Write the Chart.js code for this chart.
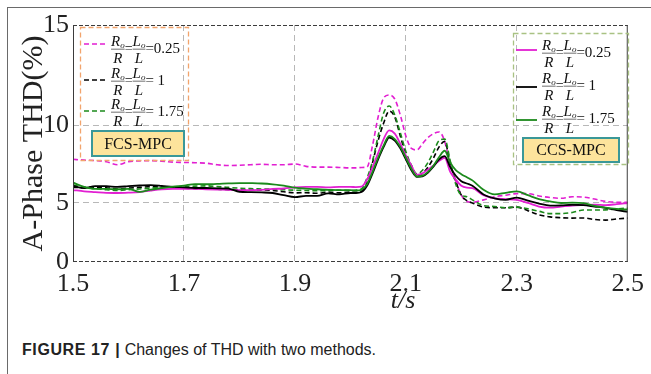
<!DOCTYPE html>
<html>
<head>
<meta charset="utf-8">
<script src="https://cdn.jsdelivr.net/npm/chart.js@4.4.0/dist/chart.umd.min.js"></script>
<style>
  html, body { margin: 0; padding: 0; background: #fff; }
  body { width: 651px; height: 374px; position: relative; overflow: hidden; }
  #frame { position: absolute; left: 7px; top: 7px; width: 700px; height: 400px;
           border-left: 1px solid #6a6a6a; border-top: 1px solid #6a6a6a; }
  #wrap { position: absolute; left: 0; top: 0; width: 651px; height: 320px; }
  #caption { position: absolute; left: 22px; top: 341px; color: #222;
             font: 16px "Liberation Sans", Arial, sans-serif; white-space: nowrap; }
  #caption b { font-weight: bold; letter-spacing: 0.6px; }
</style>
</head>
<body>
<div id="frame"></div>
<div id="wrap"><canvas id="chart" width="651" height="320"></canvas></div>
<div id="caption"><b>FIGURE 17 |</b> Changes of THD with two methods.</div>
<script>
"use strict"

// time axis (s), finer around the load step
const times = [
    1.50, 1.52, 1.54, 1.56, 1.58, 1.60, 1.62, 1.64, 1.66, 1.68,
    1.70, 1.72, 1.74, 1.76, 1.78, 1.80, 1.82, 1.84, 1.86, 1.88,
    1.90, 1.92, 1.94, 1.96, 1.98, 2.00,
    2.01, 2.02, 2.03, 2.04, 2.05, 2.06, 2.07, 2.08, 2.09, 2.10,
    2.11, 2.12, 2.13, 2.14, 2.15, 2.16, 2.17, 2.18, 2.19, 2.20,
    2.21, 2.22,
    2.24, 2.26, 2.28, 2.30, 2.32, 2.34, 2.36, 2.38, 2.40, 2.42, 2.44, 2.46, 2.48, 2.50
];

// FCS-MPC (dashed)
const fcsPink = [
    7.80, 7.75, 7.72, 7.65, 7.45, 7.65, 7.70, 7.72, 7.68, 7.62,
    7.60, 7.58, 7.55, 7.45, 7.40, 7.42, 7.45, 7.48, 7.45, 7.45,
    7.50, 7.35, 7.30, 7.30, 7.28, 7.25,
    7.25, 7.28, 7.30, 8.70, 10.40, 11.35, 11.50, 11.30, 10.50, 9.30,
    8.50, 8.40, 8.80, 9.20, 9.45, 9.55, 8.95, 7.40, 6.40, 5.50,
    5.10, 5.05,
    5.20, 5.40, 5.50, 5.60, 5.60, 5.45, 5.35, 5.30, 5.40, 5.38, 5.25, 5.10, 5.05, 5.05
];
const fcsBlack = [
    6.00, 5.98, 6.02, 5.98, 5.90, 5.95, 6.00, 6.05, 6.02, 5.98,
    5.95, 5.92, 5.90, 5.88, 5.86, 5.85, 5.82, 5.84, 5.80, 5.72,
    5.65, 5.66, 5.62, 5.70, 5.65, 5.70,
    5.68, 5.75, 6.30, 7.60, 9.00, 10.10, 10.70, 10.40, 9.30, 8.10,
    7.40, 6.75, 6.90, 7.30, 7.90, 8.60, 8.95, 7.50, 6.40, 5.50,
    5.15, 5.00,
    4.65, 4.60, 4.60, 4.65, 4.35, 4.00, 3.82, 3.75, 3.72, 3.73, 3.60, 3.55, 3.65, 3.72
];
const fcsGreen = [
    6.15, 6.00, 5.92, 5.85, 5.80, 5.85, 5.90, 5.95, 6.00, 6.02,
    6.05, 6.08, 6.10, 6.05, 6.00, 5.95, 5.92, 5.90, 5.88, 5.85,
    5.82, 5.80, 5.78, 5.80, 5.82, 5.80,
    5.82, 5.90, 6.60, 7.70, 9.30, 10.60, 10.95, 10.50, 9.50, 8.30,
    7.40, 6.85, 7.10, 7.60, 8.30, 9.00, 9.10, 7.70, 6.20, 5.50,
    5.40, 5.20,
    4.78, 4.70, 4.60, 4.65, 4.50, 4.30, 4.10, 4.10, 4.20, 4.40, 4.40, 4.42, 4.50, 4.58
];

// CCS-MPC (solid)
const ccsPink = [
    5.83, 5.75, 5.70, 5.65, 5.64, 5.66, 5.70, 5.80, 5.88, 5.90,
    5.90, 5.90, 5.88, 5.86, 5.84, 5.83, 5.83, 5.84, 5.90, 5.93,
    6.00, 6.03, 6.03, 6.00, 6.03, 6.03,
    6.02, 6.05, 6.50, 7.30, 8.20, 9.10, 9.65, 9.45, 8.80, 8.05,
    7.40, 6.80, 6.90, 7.15, 7.40, 7.70, 7.90, 7.00, 6.50, 6.10,
    5.98, 5.95,
    5.50, 5.30, 5.25, 5.20, 5.00, 4.70, 4.60, 4.70, 4.78, 4.82, 4.85, 4.82, 4.90, 5.00
];
const ccsBlack = [
    6.09, 5.95, 6.08, 6.08, 6.03, 6.08, 6.12, 6.15, 6.10, 6.03,
    6.00, 5.96, 5.96, 5.94, 5.92, 5.72, 5.70, 5.68, 5.64, 5.50,
    5.38, 5.45, 5.45, 5.62, 5.55, 5.64,
    5.64, 5.70, 6.10, 6.90, 7.80, 8.60, 9.20, 9.00, 8.50, 7.80,
    7.10, 6.68, 6.70, 6.95, 7.35, 7.80, 8.00, 7.30, 6.75, 6.40,
    6.25, 6.10,
    5.55, 5.30, 5.20, 5.35, 5.15, 4.95, 4.78, 4.80, 4.85, 4.82, 4.70, 4.58, 4.40, 4.25
];
const ccsGreen = [
    6.30, 6.03, 5.90, 5.90, 5.88, 5.90, 5.71, 5.85, 5.96, 6.05,
    6.12, 6.21, 6.20, 6.22, 6.26, 6.28, 6.27, 6.25, 6.20, 6.12,
    5.98, 5.92, 5.88, 5.84, 5.83, 5.83,
    5.80, 5.85, 6.20, 7.00, 7.90, 8.70, 9.30, 9.10, 8.60, 7.90,
    7.20, 6.70, 6.75, 7.00, 7.40, 7.95, 8.35, 7.60, 7.10, 6.85,
    6.65, 6.45,
    5.85, 5.55, 5.65, 5.75, 5.50, 5.25, 5.10, 5.00, 5.02, 4.98, 4.75, 4.60, 4.50, 4.45
];

const xTicks = [1.5, 1.7, 1.9, 2.1, 2.3, 2.5];
const yTicks = [0, 5, 10, 15];
const ratioLabels = ["=0.25", "= 1", "= 1.75"];
const methodNames = ["FCS-MPC", "CCS-MPC"];
const xTitle = "t/s";

const MAGENTA = "#e21fd2";
const BLACK = "#000000";
const GREEN = "#1b8a1b";
const SERIF = '"Liberation Serif", "Times New Roman", serif';

Chart.defaults.font.family = SERIF;
Chart.defaults.color = "#222";


// the printed y axis is not evenly spaced: 0-5 is short, 10-15 is tall
const warpValues = [0, 5, 10, 15];
const warpDecimals = [0, 0.249, 0.578, 1];

function warp(v) {
    for (let i = 1; i < warpValues.length; i++) {
        if (v <= warpValues[i] || i === warpValues.length - 1) {
            const f = (v - warpValues[i - 1]) / (warpValues[i] - warpValues[i - 1]);
            return warpDecimals[i - 1] + f * (warpDecimals[i] - warpDecimals[i - 1]);
        }
    }
}
function unwarp(d) {
    for (let i = 1; i < warpDecimals.length; i++) {
        if (d <= warpDecimals[i] || i === warpDecimals.length - 1) {
            const f = (d - warpDecimals[i - 1]) / (warpDecimals[i] - warpDecimals[i - 1]);
            return warpValues[i - 1] + f * (warpValues[i] - warpValues[i - 1]);
        }
    }
}

class WarpScale extends Chart.LinearScale {
    getPixelForValue(value) {
        if (value === null || isNaN(value)) return NaN;
        return this.getPixelForDecimal(warp(value));
    }
    getValueForPixel(pixel) {
        return unwarp(this.getDecimalForPixel(pixel));
    }
}
WarpScale.id = "warp";
WarpScale.defaults = Chart.LinearScale.defaults;
Chart.register(WarpScale);


function series(values) {
    return values.map((v, i) => ({ x: times[i], y: v }));
}

function line(label, values, color, dashed) {
    return {
        label: label,
        data: series(values),
        borderColor: color,
        borderWidth: dashed ? 1.6 : 1.8,
        borderDash: dashed ? [5, 3] : [],
        pointRadius: 0,
        fill: false,
        cubicInterpolationMode: "monotone",
    };
}

// first dataset is painted last (on top)
const datasets = [
    line("CCS 1.75", ccsGreen, GREEN, false),
    line("CCS 1", ccsBlack, BLACK, false),
    line("CCS 0.25", ccsPink, MAGENTA, false),
    line("FCS 1.75", fcsGreen, GREEN, true),
    line("FCS 1", fcsBlack, BLACK, true),
    line("FCS 0.25", fcsPink, MAGENTA, true),
];

// legend boxes: rows are 0.25, 1, 1.75
const legendGroups = [
    { name: methodNames[0], sets: [5, 4, 3], box: [80, 27, 108, 133], edge: "#f2a46c",
      lineX: [84, 108], lineY: [44, 80, 111], textX: 111, rows: [49, 81, 112], tag: [92, 131, 92, 25] },
    { name: methodNames[1], sets: [2, 1, 0], box: [513, 33, 115, 131], edge: "#a9c283",
      lineX: [516, 537], lineY: [50, 87, 120], textX: 542, rows: [53, 86, 119], tag: [523, 138, 96, 24] },
];

function fraction(ctx, x, y, letter) {
    ctx.font = "italic 15px " + SERIF;
    const lw = ctx.measureText(letter).width;
    ctx.font = "italic 9px " + SERIF;
    const sw = ctx.measureText("o").width;
    const w = lw + sw;
    ctx.font = "italic 15px " + SERIF;
    ctx.fillText(letter, x, y - 3);
    ctx.font = "italic 9px " + SERIF;
    ctx.fillText("o", x + lw, y - 1);
    ctx.font = "italic 15px " + SERIF;
    ctx.fillText(letter, x + (w - lw) / 2, y + 14);
    ctx.fillRect(x, y - 0.2, w, 0.6);
    return w;
}

function legendEntry(ctx, x, y, ratio) {
    ctx.fillStyle = "#111";
    ctx.textBaseline = "alphabetic";
    let w = fraction(ctx, x, y, "R");
    ctx.font = "14px " + SERIF;
    ctx.fillText("=", x + w, y + 4);
    x += w + ctx.measureText("=").width;
    w = fraction(ctx, x, y, "L");
    ctx.font = "15px " + SERIF;
    ctx.fillText(ratio, x + w, y + 4);
}

const legendPlugin = {
    id: "methodLegends",
    afterDraw(chart) {
        const ctx = chart.ctx;
        const a = chart.chartArea;
        ctx.save();

        // plot frame
        ctx.strokeStyle = "#3c3c3c";
        ctx.lineWidth = 1;
        ctx.beginPath();
        ctx.moveTo(a.left + 0.5, a.top);
        ctx.lineTo(a.left + 0.5, a.bottom);
        ctx.moveTo(a.right - 0.5, a.top);
        ctx.lineTo(a.right - 0.5, a.bottom);
        ctx.stroke();
        ctx.setLineDash([4, 2]);
        ctx.beginPath();
        ctx.moveTo(a.left, a.top + 0.5);
        ctx.lineTo(a.right, a.top + 0.5);
        ctx.moveTo(a.left, a.bottom - 0.5);
        ctx.lineTo(a.right, a.bottom - 0.5);
        ctx.stroke();

        // x axis title sits under 2.1 in the original
        ctx.setLineDash([]);
        ctx.fillStyle = "#222";
        ctx.font = "italic 26px " + SERIF;
        ctx.textAlign = "center";
        ctx.textBaseline = "alphabetic";
        ctx.fillText(xTitle, chart.scales.x.getPixelForValue(2.095), 308);
        ctx.textAlign = "left";

        legendGroups.forEach(g => {
            const [bx, by, bw, bh] = g.box;
            ctx.setLineDash([5, 3]);
            ctx.lineWidth = 1.3;
            ctx.strokeStyle = g.edge;
            ctx.strokeRect(bx + 0.5, by + 0.5, bw, bh);

            g.sets.forEach((di, r) => {
                const ds = chart.data.datasets[di];
                ctx.setLineDash(ds.borderDash);
                ctx.strokeStyle = ds.borderColor;
                ctx.lineWidth = ds.borderWidth;
                ctx.beginPath();
                ctx.moveTo(g.lineX[0], g.lineY[r]);
                ctx.lineTo(g.lineX[1], g.lineY[r]);
                ctx.stroke();
                legendEntry(ctx, g.textX, g.rows[r], ratioLabels[r]);
            });

            const [tx, ty, tw, th] = g.tag;
            ctx.setLineDash([]);
            ctx.fillStyle = "#fde49c";
            ctx.fillRect(tx, ty, tw, th);
            ctx.strokeStyle = "#3a9898";
            ctx.lineWidth = 2;
            ctx.strokeRect(tx, ty, tw, th);
            ctx.fillStyle = "#111";
            ctx.font = "16px " + SERIF;
            ctx.textAlign = "center";
            ctx.textBaseline = "middle";
            ctx.fillText(g.name, tx + tw / 2, ty + th / 2 + 1);
            ctx.textAlign = "left";
        });
        ctx.restore();
    }
};

const edgeX = v => v === xTicks[0] || v === xTicks[xTicks.length - 1];
const edgeY = v => v === yTicks[0] || v === yTicks[yTicks.length - 1];

new Chart(document.querySelector("#chart"), {
    type: "line",
    data: { datasets: datasets },
    options: {
        responsive: false,
        animation: false,
        layout: { padding: { left: 0, top: 25, right: 8, bottom: 0 } },
        plugins: { legend: { display: false }, tooltip: { enabled: false } },
        scales: {
            x: {
                type: "linear",
                min: 1.5,
                max: 2.5,
                afterBuildTicks: s => { s.ticks = xTicks.map(v => ({ value: v })); },
                afterFit: s => { s.height = 58; },
                ticks: { padding: 7, font: { size: 26 }, callback: v => v.toFixed(1) },
                grid: { color: c => edgeX(c.tick.value) ? "rgba(0,0,0,0)" : "#b8b8b8", drawTicks: false },
                border: { display: false, dash: [6, 4] },
            },
            y: {
                type: "warp",
                min: 0,
                max: 15,
                afterBuildTicks: s => { s.ticks = yTicks.map(v => ({ value: v })); },
                afterFit: s => { s.width = 73; },
                ticks: { padding: 4, font: { size: 26 } },
                grid: { color: c => edgeY(c.tick.value) ? "rgba(0,0,0,0)" : "#b8b8b8", drawTicks: false },
                border: { display: false, dash: [6, 4] },
                title: { display: true, text: "A-Phase THD(%)", font: { size: 30 }, padding: { top: 16, bottom: 16 } },
            }
        }
    },
    plugins: [legendPlugin]
});
</script>
</body>
</html>
